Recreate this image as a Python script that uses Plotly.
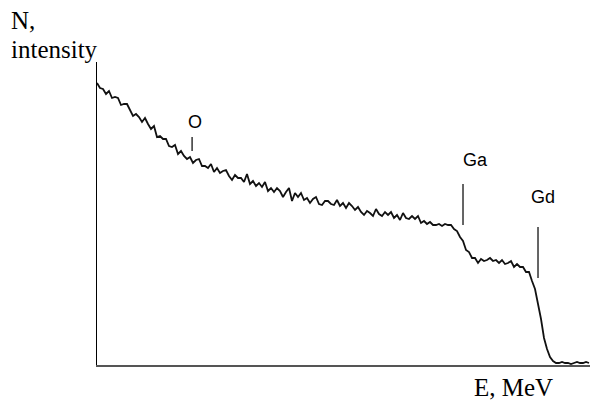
import plotly.graph_objects as go

# RBS spectrum, channel number and counts (arbitrary units)
channels = list(range(165))
counts = [
    2820, 2770, 2760, 2710, 2740, 2670, 2680, 2670, 2600, 2610,
    2610, 2550, 2490, 2510, 2480, 2430, 2470, 2410, 2360, 2390,
    2280, 2290, 2260, 2260, 2190, 2180, 2200, 2110, 2140, 2090,
    2060, 2080, 2020, 2050, 2060, 1990, 1990, 1970, 2010, 1930,
    1970, 1920, 1940, 1950, 1890, 1850, 1900, 1870, 1870, 1830,
    1910, 1810, 1840, 1790, 1820, 1780, 1830, 1740, 1770, 1730,
    1770, 1740, 1680, 1730, 1770, 1640, 1720, 1680, 1720, 1650,
    1670, 1620, 1660, 1680, 1610, 1600, 1640, 1640, 1610, 1600,
    1650, 1590, 1620, 1570, 1620, 1590, 1550, 1580, 1530, 1500,
    1540, 1520, 1490, 1560, 1510, 1490, 1530, 1500, 1530, 1470,
    1500, 1450, 1520, 1470, 1460, 1490, 1460, 1490, 1420, 1440,
    1410, 1430, 1400, 1400, 1410, 1390, 1410, 1400, 1400, 1360,
    1340, 1280, 1240, 1150, 1130, 1070, 1070, 1020, 1060, 1040,
    1050, 1070, 1040, 1050, 1020, 1050, 1010, 1020, 1040, 980,
    1010, 980, 980, 930, 930, 840, 760, 610, 460, 270,
    160, 80, 40, 20, 20, 30, 20, 20, 10, 20,
    30, 20, 20, 30, 20,
]

# element edge markers
peak_labels = ["O", "Ga", "Gd"]
peak_channels = [31.7, 122.0, 147.0]
peak_line_low = [2140, 1400, 870]
peak_line_high = [2280, 1810, 1380]
label_channels = [32.7, 126.3, 148.7]
label_counts = [2430, 2050, 1680]

fig = go.Figure()
fig.add_trace(go.Scatter(
    x=channels, y=counts, mode="lines",
    line=dict(color="#111111", width=1.8),
    hoverinfo="skip", showlegend=False,
))

for ch, lo, hi in zip(peak_channels, peak_line_low, peak_line_high):
    fig.add_shape(type="line", x0=ch, x1=ch, y0=lo, y1=hi,
                  xref="x", yref="y", line=dict(color="#333333", width=1.5))

for lab, lx, ly in zip(peak_labels, label_channels, label_counts):
    fig.add_annotation(x=lx, y=ly, xref="x", yref="y", text=lab,
                       showarrow=False, xanchor="center", yanchor="middle",
                       font=dict(family="Liberation Sans", size=18, color="black"))

serif = dict(family="Liberation Serif", size=25, color="black")
fig.add_annotation(x=9, y=20, xref="paper", yref="paper", text="N,", showarrow=False,
                   xanchor="left", yanchor="middle", font=serif)
fig.add_annotation(x=9, y=49, xref="paper", yref="paper", text="intensity", showarrow=False,
                   xanchor="left", yanchor="middle", font=serif)
fig.add_annotation(x=513, y=387, xref="paper", yref="paper", text="E, MeV", showarrow=False,
                   xanchor="center", yanchor="middle", font=serif)

# convert pixel positions of the titles into paper coords
W, H = 590, 400
L, R, T, B = 97, 0, 62, 35
pw, ph = W - L - R, H - T - B
for a in fig.layout.annotations:
    if a.xref == "paper":
        px, py = a.x, a.y
        a.x = (px - L) / pw
        a.y = (H - B - py) / ph

fig.update_layout(
    width=W, height=H,
    margin=dict(l=L, r=R, t=T, b=B, pad=0),
    paper_bgcolor="white", plot_bgcolor="white",
    xaxis=dict(range=[0, 164.33], showgrid=False, zeroline=False,
               showticklabels=False, ticks="", showline=True,
               linecolor="#555555", linewidth=2),
    yaxis=dict(range=[0, 3030], showgrid=False, zeroline=False,
               showticklabels=False, ticks="", showline=True,
               linecolor="black", linewidth=1.3),
)

fig.write_html("out.html")
